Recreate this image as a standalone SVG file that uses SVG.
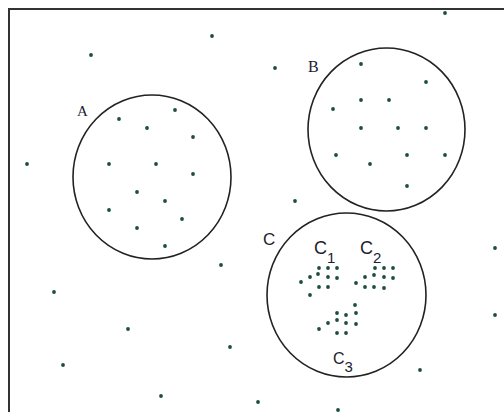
<svg xmlns="http://www.w3.org/2000/svg" width="504" height="412" viewBox="0 0 504 412">
<style>
.frame{fill:none;stroke:#333;stroke-width:2}
.cl{fill:none;stroke:#222;stroke-width:1.6}
.d{fill:#1d4d3c}
.lb{font-family:"Liberation Serif",serif;fill:#1c1c30}
.ls{font-family:"Liberation Sans","Open Sans",sans-serif;fill:#1c1c30}
</style>
<defs><circle id="p" r="1.9" class="d"/></defs>
<rect width="504" height="412" fill="#fff"/>
<path class="frame" d="M9,412 V9 H504"/>
<g id="A">
<ellipse class="cl" cx="152" cy="177" rx="79" ry="82"/>
<text class="lb" x="77" y="116" font-size="15">A</text>
<use href="#p" x="119" y="119"/><use href="#p" x="175" y="110"/><use href="#p" x="147" y="128"/><use href="#p" x="193" y="137"/>
<use href="#p" x="109" y="164"/><use href="#p" x="156" y="164"/><use href="#p" x="193" y="174"/><use href="#p" x="137" y="192"/>
<use href="#p" x="165" y="201"/><use href="#p" x="109" y="210"/><use href="#p" x="182" y="219"/><use href="#p" x="137" y="228"/>
<use href="#p" x="165" y="246"/>
</g>
<g id="B">
<ellipse class="cl" cx="386.5" cy="129.5" rx="78.5" ry="81.5"/>
<text class="lb" x="308" y="72" font-size="16">B</text>
<use href="#p" x="361" y="64"/><use href="#p" x="426" y="82"/><use href="#p" x="361" y="100"/><use href="#p" x="389" y="100"/>
<use href="#p" x="333" y="109"/><use href="#p" x="361" y="128"/><use href="#p" x="398" y="128"/><use href="#p" x="426" y="128"/>
<use href="#p" x="336" y="155"/><use href="#p" x="407" y="155"/><use href="#p" x="445" y="155"/><use href="#p" x="370" y="164"/>
<use href="#p" x="407" y="186"/>
</g>
<g id="C">
<ellipse class="cl" cx="346.5" cy="295" rx="79.5" ry="82"/>
<text class="ls" x="263" y="245" font-size="17">C</text>
</g>
<g id="C1">
<text class="ls" x="314" y="254" font-size="18">C<tspan font-size="15" dy="9">1</tspan></text>
<use href="#p" x="319" y="268"/><use href="#p" x="328" y="268"/><use href="#p" x="337" y="268"/><use href="#p" x="310" y="277"/>
<use href="#p" x="318" y="274"/><use href="#p" x="328" y="277"/><use href="#p" x="337" y="278"/><use href="#p" x="301" y="282"/>
<use href="#p" x="319" y="287"/><use href="#p" x="328" y="287"/><use href="#p" x="310" y="295"/>
</g>
<g id="C2">
<text class="ls" x="360" y="254" font-size="18">C<tspan font-size="15" dy="9">2</tspan></text>
<use href="#p" x="375" y="268"/><use href="#p" x="384" y="268"/><use href="#p" x="393" y="268"/><use href="#p" x="365" y="277"/>
<use href="#p" x="374" y="275"/><use href="#p" x="384" y="277"/><use href="#p" x="393" y="278"/><use href="#p" x="356" y="283"/>
<use href="#p" x="365" y="287"/><use href="#p" x="374" y="287"/><use href="#p" x="384" y="288"/>
</g>
<g id="C3">
<text class="ls" x="333" y="364" font-size="16">C<tspan font-size="15" dy="8">3</tspan></text>
<use href="#p" x="355" y="305"/><use href="#p" x="337" y="313"/><use href="#p" x="346" y="315"/><use href="#p" x="356" y="313"/>
<use href="#p" x="328" y="323"/><use href="#p" x="337" y="320"/><use href="#p" x="346" y="323"/><use href="#p" x="356" y="324"/>
<use href="#p" x="319" y="329"/><use href="#p" x="337" y="333"/><use href="#p" x="346" y="333"/>
</g>
<g id="noise">
<use href="#p" x="91" y="55"/><use href="#p" x="212" y="36"/><use href="#p" x="27" y="164"/><use href="#p" x="221" y="265"/>
<use href="#p" x="54" y="292"/><use href="#p" x="128" y="329"/><use href="#p" x="230" y="347"/><use href="#p" x="63" y="365"/>
<use href="#p" x="161" y="396"/><use href="#p" x="445" y="13"/><use href="#p" x="275" y="68"/><use href="#p" x="295" y="201"/>
<use href="#p" x="495" y="248"/><use href="#p" x="495" y="315"/><use href="#p" x="420" y="370"/><use href="#p" x="258" y="402"/>
<use href="#p" x="338" y="410"/>
</g>
</svg>
